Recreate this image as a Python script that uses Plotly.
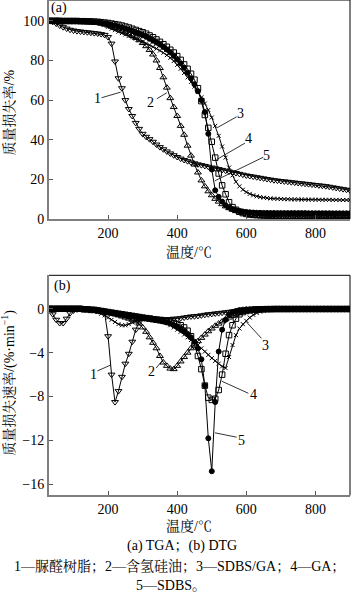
import plotly.graph_objects as go

# ---------------- data ----------------
T = [30, 40, 50, 60, 70, 80, 90, 100, 110, 120,
     130, 140, 150, 160, 170, 180, 190, 200, 210, 220,
     230, 240, 250, 260, 270, 280, 290, 300, 310, 320,
     330, 340, 350, 360, 370, 380, 390, 400, 410, 420,
     430, 440, 450, 460, 470, 480, 490, 500, 510, 520,
     530, 540, 550, 560, 570, 580, 590, 600, 610, 620,
     630, 640, 650, 660, 670, 680, 690, 700, 710, 720,
     730, 740, 750, 760, 770, 780, 790, 800, 810, 820,
     830, 840, 850, 860, 870, 880, 890, 900]

# TGA mass loss (%) : 1 UF resin, 2 H-silicone oil, 3 SDBS/GA, 4 GA, 5 SDBS
tga1 = [100, 99.5, 98.6, 97.6, 96.8, 96.1, 95.5, 95.1, 94.8, 94.6,
        94.4, 94.2, 94.0, 93.8, 93.6, 93.3, 92.9, 91.8, 88.5, 79.5,
        71.0, 66.0, 60.0, 55.5, 52.0, 48.5, 45.5, 43.0, 41.5, 40.3,
        39.0, 37.6, 36.3, 35.2, 34.1, 33.1, 32.2, 31.3, 30.5, 29.8,
        29.2, 28.6, 28.1, 27.6, 27.2, 26.8, 26.4, 26.0, 25.6, 25.2,
        24.8, 24.4, 24.0, 23.6, 23.2, 22.8, 22.4, 22.0, 21.7, 21.4,
        21.1, 20.8, 20.5, 20.2, 19.9, 19.6, 19.4, 19.2, 19.0, 18.8,
        18.6, 18.4, 18.2, 18.0, 17.8, 17.6, 17.4, 17.2, 17.0, 16.8,
        16.6, 16.3, 16.0, 15.7, 15.4, 15.1, 14.8, 14.5]
tga2 = [100, 100, 100, 99.9, 99.9, 99.9, 99.9, 99.8, 99.8, 99.8,
        99.7, 99.6, 99.5, 99.3, 99.0, 98.6, 98.1, 97.6, 97.0, 96.4,
        95.7, 95.0, 94.2, 93.3, 92.4, 91.4, 90.2, 88.8, 87.2, 85.3,
        83.0, 80.0, 76.2, 71.5, 66.3, 61.0, 56.5, 52.0, 47.0, 42.5,
        37.0, 32.0, 27.5, 23.5, 19.5, 16.5, 14.0, 12.0, 10.2, 8.8,
        7.5, 6.4, 5.5, 4.7, 4.0, 3.4, 2.9, 2.5, 2.1, 1.8,
        1.6, 1.5, 1.4, 1.3, 1.25, 1.2, 1.15, 1.1, 1.1, 1.05,
        1.05, 1.0, 1.0, 1.0, 1.0, 0.95, 0.95, 0.95, 0.9, 0.9,
        0.9, 0.9, 0.85, 0.85, 0.85, 0.8, 0.8, 0.8]
tga3 = [100, 100, 100, 99.9, 99.9, 99.9, 99.9, 99.8, 99.8, 99.8,
        99.7, 99.6, 99.5, 99.3, 99.0, 98.7, 98.0, 97.0, 96.0, 95.3,
        94.5, 93.8, 93.1, 92.4, 91.7, 91.0, 90.2, 89.4, 88.6, 87.8,
        86.9, 86.0, 85.0, 83.9, 82.7, 81.3, 79.7, 77.8, 75.8, 73.7,
        71.5, 69.2, 66.8, 64.2, 61.4, 58.3, 55.0, 51.2, 47.0, 42.0,
        36.6, 31.0, 26.0, 22.0, 18.8, 16.5, 14.8, 13.6, 12.7, 12.0,
        11.5, 11.1, 10.8, 10.6, 10.4, 10.3, 10.2, 10.1, 10.05, 10.0,
        9.95, 9.9, 9.9, 9.85, 9.85, 9.8, 9.8, 9.75, 9.75, 9.7,
        9.7, 9.7, 9.65, 9.65, 9.6, 9.6, 9.6, 9.6]
tga4 = [100, 100, 100, 100, 99.9, 99.9, 99.9, 99.9, 99.9, 99.8,
        99.8, 99.7, 99.7, 99.6, 99.5, 99.3, 99.1, 98.9, 98.6, 98.3,
        98.0, 97.6, 97.1, 96.6, 96.0, 95.4, 94.8, 94.2, 93.5, 92.6,
        91.7, 90.6, 89.4, 88.2, 86.9, 85.4, 84.0, 82.2, 80.3, 78.0,
        75.8, 73.3, 70.3, 66.0, 59.5, 52.5, 46.0, 39.0, 31.0, 23.0,
        17.0, 12.5, 8.5, 6.0, 4.7, 3.7, 3.0, 2.6, 2.3, 2.1,
        2.0, 1.9, 1.85, 1.8, 1.8, 1.75, 1.75, 1.7, 1.7, 1.7,
        1.65, 1.65, 1.65, 1.6, 1.6, 1.6, 1.6, 1.55, 1.55, 1.55,
        1.5, 1.5, 1.5, 1.5, 1.5, 1.5, 1.5, 1.5]
tga5 = [100, 100, 100, 100, 99.9, 99.9, 99.9, 99.9, 99.8, 99.8,
        99.7, 99.6, 99.5, 99.4, 99.2, 99.0, 98.7, 98.4, 98.0, 97.6,
        97.1, 96.6, 96.0, 95.4, 94.8, 94.1, 93.4, 92.7, 91.9, 91.0,
        90.0, 89.0, 88.0, 86.8, 85.5, 84.0, 82.3, 80.5, 78.5, 76.3,
        73.8, 71.0, 68.0, 64.5, 60.0, 54.0, 43.0, 25.0, 14.5, 11.2,
        8.8, 7.0, 5.8, 5.0, 4.5, 4.1, 3.8, 3.6, 3.4, 3.3,
        3.2, 3.15, 3.1, 3.1, 3.05, 3.05, 3.0, 3.0, 3.0, 3.0,
        3.0, 3.0, 3.0, 3.0, 3.0, 2.95, 2.95, 2.95, 2.95, 2.95,
        2.95, 2.95, 2.9, 2.9, 2.9, 2.9, 2.9, 2.9]

# DTG mass loss rate (%/min)
dtg1 = [0, -0.5, -1.0, -1.3, -1.3, -0.9, -0.4, -0.15, -0.05, 0,
        0, 0, 0, -0.05, -0.1, -0.15, -0.4, -2.5, -6.0, -8.5,
        -7.5, -6.2, -5.0, -4.1, -3.0, -1.9, -1.2, -0.85, -0.8, -0.8,
        -0.85, -0.9, -0.9, -0.95, -0.95, -0.95, -0.9, -0.9, -0.85, -0.8,
        -0.75, -0.7, -0.68, -0.65, -0.6, -0.55, -0.5, -0.47, -0.43, -0.4,
        -0.36, -0.32, -0.28, -0.24, -0.2, -0.17, -0.14, -0.11, -0.09, -0.07,
        -0.06, -0.05, -0.05, -0.04, -0.04, -0.04, -0.03, -0.03, -0.03, -0.03,
        -0.02, -0.02, -0.02, -0.02, -0.02, -0.02, -0.02, -0.02, -0.02, -0.02,
        -0.02, -0.02, -0.02, -0.02, -0.02, -0.02, -0.02, -0.02]
dtg2 = [0, 0, 0, 0, 0, 0, 0, 0, 0, 0,
        -0.05, -0.05, -0.08, -0.1, -0.15, -0.2, -0.25, -0.3, -0.4, -0.5,
        -0.6, -0.7, -0.8, -0.9, -1.0, -1.15, -1.35, -1.7, -2.1, -2.6,
        -3.1, -3.6, -4.3, -4.9, -5.2, -5.45, -5.5, -5.2, -4.8, -4.4,
        -4.0, -3.6, -3.25, -2.95, -2.65, -2.35, -2.05, -1.8, -1.55, -1.35,
        -1.15, -0.95, -0.8, -0.65, -0.5, -0.38, -0.28, -0.2, -0.14, -0.1,
        -0.07, -0.05, -0.04, -0.03, -0.03, -0.02, -0.02, -0.02, -0.02, -0.02,
        -0.02, -0.02, -0.02, -0.02, -0.02, -0.02, -0.02, -0.02, -0.02, -0.02,
        -0.02, -0.02, -0.02, -0.02, -0.02, -0.02, -0.02, -0.02]
dtg3 = [0, 0, 0, 0, 0, 0, 0, 0, 0, 0,
        -0.05, -0.1, -0.15, -0.2, -0.3, -0.45, -0.6, -0.8, -1.0, -1.2,
        -1.4, -1.5, -1.5, -1.4, -1.25, -1.1, -1.0, -0.95, -0.9, -0.9,
        -0.9, -0.95, -1.0, -1.15, -1.3, -1.5, -1.7, -1.9, -2.1, -2.35,
        -2.6, -2.85, -3.05, -3.3, -3.6, -3.9, -4.2, -4.5, -4.75, -5.0,
        -5.25, -5.4, -4.4, -3.3, -2.4, -1.8, -1.4, -1.1, -0.8, -0.55,
        -0.38, -0.26, -0.18, -0.12, -0.08, -0.05, -0.04, -0.03, -0.03, -0.03,
        -0.02, -0.02, -0.02, -0.02, -0.02, -0.02, -0.02, -0.02, -0.02, -0.02,
        -0.02, -0.02, -0.02, -0.02, -0.02, -0.02, -0.02, -0.02]
dtg4 = [0, 0, 0, 0, 0, 0, 0, 0, 0, 0,
        -0.05, -0.05, -0.1, -0.1, -0.15, -0.2, -0.25, -0.3, -0.35, -0.4,
        -0.45, -0.5, -0.55, -0.6, -0.65, -0.7, -0.75, -0.8, -0.85, -0.9,
        -0.95, -1.0, -1.05, -1.1, -1.15, -1.2, -1.3, -1.4, -1.5, -1.7,
        -2.0, -2.5, -3.3, -4.3, -5.5, -7.0, -8.1, -8.3, -8.2, -7.4,
        -6.0, -4.1, -2.4, -1.5, -0.9, -0.5, -0.3, -0.2, -0.14, -0.1,
        -0.07, -0.05, -0.04, -0.03, -0.03, -0.02, -0.02, -0.02, -0.02, -0.02,
        -0.02, -0.02, -0.02, -0.02, -0.02, -0.02, -0.02, -0.02, -0.02, -0.02,
        -0.02, -0.02, -0.02, -0.02, -0.02, -0.02, -0.02, -0.02]
dtg5 = [0, 0, 0, 0, 0, 0, 0, 0, 0, 0,
        -0.05, -0.05, -0.1, -0.1, -0.15, -0.2, -0.25, -0.3, -0.35, -0.4,
        -0.45, -0.5, -0.55, -0.6, -0.65, -0.7, -0.75, -0.8, -0.85, -0.9,
        -0.95, -1.0, -1.05, -1.15, -1.25, -1.35, -1.5, -1.65, -1.85, -2.05,
        -2.3, -2.6, -3.0, -3.6, -4.6, -7.0, -11.8, -14.8, -8.5, -3.9,
        -1.9, -1.0, -0.55, -0.3, -0.2, -0.12, -0.08, -0.05, -0.04, -0.03,
        -0.03, -0.02, -0.02, -0.02, -0.02, -0.02, -0.02, -0.02, -0.02, -0.02,
        -0.02, -0.02, -0.02, -0.02, -0.02, -0.02, -0.02, -0.02, -0.02, -0.02,
        -0.02, -0.02, -0.02, -0.02, -0.02, -0.02, -0.02, -0.02]

x_ticks = [200, 400, 600, 800]
tga_ticks = [0, 20, 40, 60, 80, 100]
dtg_ticks = [0, -4, -8, -12, -16]
curve_labels = ["1", "2", "3", "4", "5"]

# ---------------- layout helpers ----------------
W, H = 352, 605
ML, MR = 49, 2
PW = W - ML - MR
FONT = "Liberation Serif, 'Noto Serif CJK SC', 'Noto Sans CJK SC', serif"


def px(xp):
    return (xp - ML) / PW


def py(yp):
    return 1 - yp / H


styles = [
    dict(symbol="triangle-down-open", size=6),
    dict(symbol="triangle-up-open", size=6),
    dict(symbol="x-thin-open", size=4),
    dict(symbol="square-open", size=5.5),
    dict(symbol="circle", size=5),
]

fig = go.Figure()
tga = [tga1, tga2, tga3, tga4, tga5]
dtg = [dtg1, dtg2, dtg3, dtg4, dtg5]
for i in range(5):
    st = styles[i]
    mk = dict(symbol=st["symbol"], size=st["size"], color="black",
              line=dict(color="black", width=1))
    fig.add_trace(go.Scatter(x=T, y=tga[i], mode="lines+markers",
                             line=dict(color="black", width=1), marker=mk,
                             xaxis="x", yaxis="y", showlegend=False,
                             hoverinfo="skip"))
    fig.add_trace(go.Scatter(x=T, y=dtg[i], mode="lines+markers",
                             line=dict(color="black", width=1), marker=mk,
                             xaxis="x2", yaxis="y2", showlegend=False,
                             hoverinfo="skip"))

axis_common = dict(showline=True, linecolor="#7f7f7f", linewidth=2,
                   ticks="inside", ticklen=4, tickcolor="#555555",
                   tickwidth=1, showgrid=False, zeroline=False,
                   tickfont=dict(family=FONT, size=14, color="black"))

fig.update_layout(
    width=W, height=H,
    margin=dict(l=ML, r=MR, t=0, b=0),
    paper_bgcolor="white", plot_bgcolor="white",
    font=dict(family=FONT, size=14, color="black"),
    xaxis=dict(domain=[0, 1], range=[29, 900], tickvals=x_ticks,
               anchor="y", **axis_common),
    yaxis=dict(domain=[1 - 222 / H, 1], range=[0, 110.5],
               tickvals=tga_ticks, anchor="x", **axis_common),
    xaxis2=dict(domain=[0, 1], range=[29, 900], tickvals=x_ticks,
                anchor="y2", **axis_common),
    yaxis2=dict(domain=[1 - 502 / H, 1 - 279 / H], range=[-17, 3.05],
                tickvals=dtg_ticks, anchor="x2", **axis_common),
)

# top/right frame lines
shapes = []
for xr, yr in (("x domain", "y domain"), ("x2 domain", "y2 domain")):
    shapes.append(dict(type="line", xref=xr, yref=yr, x0=0, x1=1, y0=1, y1=1,
                       line=dict(color="black", width=1)))
    shapes.append(dict(type="line", xref=xr, yref=yr, x0=1, x1=1, y0=0, y1=1,
                       line=dict(color="black", width=1)))

# leader lines (data coords) and curve number labels
top_leaders = [((181, 61.2), (236, 64.0), (168, 60.7)),
               ((341, 60.7), (370, 63.7), (324, 58.7)),
               ((572, 51.6), (516, 46.1), (582, 53.3)),
               ((596, 38.3), (514, 30.0), (606, 40.5)),
               ((649, 31.2), (509, 19.3), (659, 32.2))]
bot_leaders = [((169, -5.66), (208, -5.12), (157, -6.0)),
               ((339, -5.4), (360, -4.6), (326, -5.7)),
               ((644, -2.7), (601, -1.23), (656, -3.3)),
               ((606, -7.7), (529, -6.6), (620, -7.8)),
               ((572, -11.7), (509, -11.3), (587, -12.0))]
annotations = []
for (leaders, xr, yr) in ((top_leaders, "x", "y"), (bot_leaders, "x2", "y2")):
    for k, (a, b, t) in enumerate(leaders):
        shapes.append(dict(type="line", xref=xr, yref=yr, x0=a[0], y0=a[1],
                           x1=b[0], y1=b[1],
                           line=dict(color="black", width=0.8)))
        annotations.append(dict(xref=xr, yref=yr, x=t[0], y=t[1],
                                text=curve_labels[k], showarrow=False,
                                font=dict(family=FONT, size=14),
                                xanchor="center", yanchor="middle"))


def ann(text, xp, yp, angle=0, size=14):
    annotations.append(dict(xref="paper", yref="paper", x=px(xp), y=py(yp),
                            text=text, showarrow=False, textangle=angle,
                            font=dict(family=FONT, size=size, color="black"),
                            xanchor="center", yanchor="middle"))


ann("(a)", 59, 8)
ann("(b)", 62, 290)
ann("质量损失率/%", 9, 114, angle=-90)
ann("质量损失速率/(%·min<sup>−1</sup>)", 9, 388, angle=-90)
ann("温度/℃", 189, 255)
ann("温度/℃", 189, 533)
ann("(a) TGA；(b) DTG", 182, 553)
ann("1—脲醛树脂；2—含氢硅油；3—SDBS/GA；4—GA；", 179, 574)
ann("5—SDBS。", 171, 593)

fig.update_layout(shapes=shapes, annotations=annotations, hovermode=False)
fig.write_html("out.html", config={"displayModeBar": False})
